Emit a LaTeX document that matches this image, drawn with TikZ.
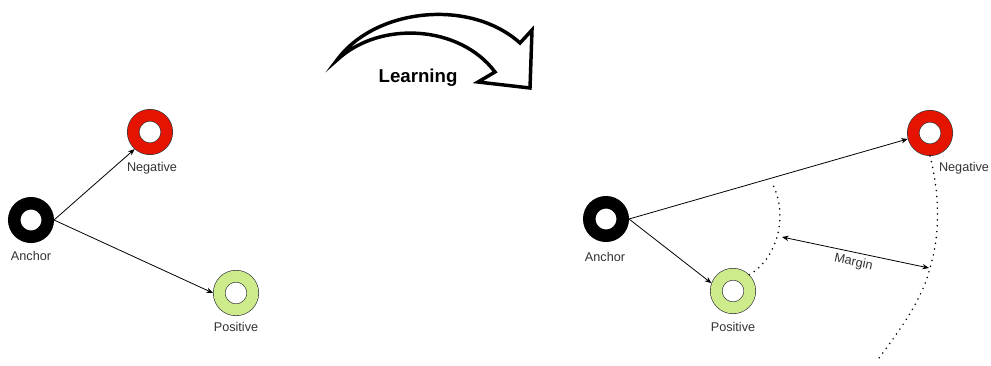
\documentclass[tikz,border=0pt]{standalone}
\usepackage{fontspec}
\setmainfont{Liberation Sans}
\usetikzlibrary{arrows.meta, positioning}
\definecolor{negred}{HTML}{E51400}
\definecolor{posgreen}{HTML}{CDEB8B}
\definecolor{ringline}{HTML}{36393D}
\definecolor{labeltext}{HTML}{333333}

\begin{document}
\begin{tikzpicture}[
  x=0.75pt, y=-0.75pt,
  every node/.style={font=\fontsize{9.5}{11}\selectfont},
  ring/.style={circle, line width=0.5pt, double distance=8.4pt, minimum size=25.1pt, inner sep=0pt, outer sep=4.7pt},
  anchorring/.style={ring, draw=black, double=black},
  negring/.style={ring, draw=ringline, double=negred},
  posring/.style={ring, draw=ringline, double=posgreen},
  lbl/.style={text=labeltext, inner sep=1pt},
  arrow/.style={-{Stealth[length=5pt, width=4pt]}, line width=0.6pt, draw=black},
  twoway/.style={{Stealth[length=5pt, width=4pt]}-{Stealth[length=5pt, width=4pt]}, line width=0.6pt, draw=black},
  dotline/.style={line width=1.3pt, dash pattern=on 0pt off 4.4pt, line cap=round},
  bigarrow/.style={draw=black, line width=2.6pt, fill=white, line join=miter}
]
\useasboundingbox[fill=white] (0,0) rectangle (991,365);

% Learning arrow
\path[bigarrow] (337,60) .. controls (375,8) and (470,-2) .. (520,43)
  -- (532,30) -- (530,88) -- (478,82) -- (495,72)
  .. controls (460,25) and (380,20) .. cycle;
\node[font=\bfseries\fontsize{14}{16}\selectfont] (learn) at (418,78) {Learning};

% Left: before learning
\node[anchorring] (anc1) at (31,220) {};
\node[negring]    (neg1) at (150,132) {};
\node[posring]    (pos1) at (236,293) {};
\node[lbl] (anc1lbl) at (31,256)  {Anchor};
\node[lbl] (neg1lbl) at (152,168) {Negative};
\node[lbl] (pos1lbl) at (236,327) {Positive};

\draw[arrow] (anc1.east) -- (neg1.228);
\draw[arrow] (anc1.east) -- (pos1.west);

% Right: after learning
\node[anchorring] (anc2) at (606,219) {};
\node[negring]    (neg2) at (930,133) {};
\node[posring]    (pos2) at (733,291) {};
\node[lbl] (anc2lbl) at (605,257) {Anchor};
\node[lbl] (neg2lbl) at (964,168) {Negative};
\node[lbl] (pos2lbl) at (733,327) {Positive};

\draw[arrow] (anc2.east) -- (neg2.195);
\draw[arrow] (anc2.east) -- (pos2.160);

% Margin boundaries
\coordinate (innertop) at (773,185);
\coordinate (outerbend) at (930,268);
\coordinate (outerend) at (876,362);
\draw[dotline] (pos2.45) .. controls (778,258) and (788,215) .. (innertop);
\draw[dotline] (neg2.south) .. controls (940,195) and (940,235) .. (outerbend)
  .. controls (922,300) and (900,330) .. (outerend);

\coordinate (mstart) at (782,237);
\coordinate (mend) at (929,268);
\draw[twoway] (mstart) -- node[lbl, midway, below=2pt, sloped] (marginlbl) {Margin} (mend);

\end{tikzpicture}
\end{document}
